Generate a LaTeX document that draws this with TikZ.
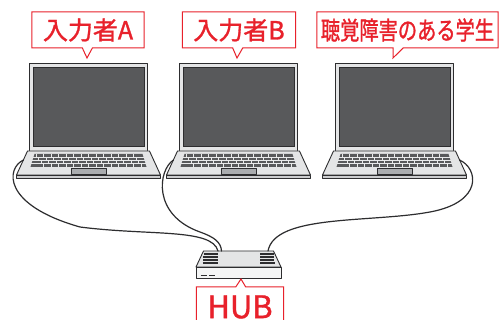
\documentclass[tikz,border=0pt]{standalone}
\usepackage{fontspec}
\newfontfamily\jpfont[FakeBold=1.2]{Noto Sans CJK JP}
\newfontfamily\jpnarrow[FakeStretch=0.77, FakeBold=1.2]{Noto Sans CJK JP}
\usetikzlibrary{shapes.callouts}

\definecolor{tagred}{RGB}{232,33,43}
\definecolor{casegray}{RGB}{228,229,230}
\definecolor{screengray}{RGB}{88,89,91}
\definecolor{edgegray}{RGB}{45,45,47}
\definecolor{padgray}{RGB}{170,172,175}

\tikzset{
    casing/.style={draw=edgegray, fill=casegray, line width=0.9pt, line join=round},
    screenarea/.style={draw=edgegray, fill=screengray, line width=0.8pt},
    keygap/.style={draw=casegray!80, line width=0.6pt},
    vent/.style={draw=edgegray, line width=1.1pt},
    cable/.style={draw=edgegray, line width=1.2pt, line cap=round},
    % notebook, origin at the hinge centre
    laptop/.pic={
        % lid
        \draw[casing] (-59,-88) rectangle (59,0);
        \draw[screenarea] (-55.5,-84) rectangle (56,-5);
        % base
        \draw[casing] (-61,0) -- (61,0) -- (72,24) -- (-72,24) -- cycle;
        \draw[casing, fill=padgray!60] (-72,24) rectangle (72,27);
        % keyboard
        \fill[screengray] (-54,3) -- (54,3) -- (58,16) -- (-58,16) -- cycle;
        \foreach \r in {1,2,3}
            \draw[keygap] ({-54-\r*1.3},{3+\r*3.25}) -- ({54+\r*1.3},{3+\r*3.25});
        \foreach \r in {0,...,3}
            \foreach \k in {-7,...,6}
                \draw[keygap] ({\k*7.5+\r*2.5},{3+\r*3.25}) -- ++(0,3.25);
        % trackpad
        \draw[casing, fill=padgray] (-17,17.5) rectangle (18,23.5);
        \coordinate (-tip) at (-1.5,-93);
        \coordinate (-lport) at (-65,9);
        \coordinate (-rport) at (65,9);
    },
    % switching hub, origin at the middle of the back edge
    hub/.pic={
        \draw[casing] (-35,0) -- (35,0) -- (42.5,16) -- (-42.5,16) -- cycle;
        \draw[casing, fill=casegray!40] (-42.5,16) rectangle (42.5,27);
        \foreach \v in {3,6,9,12} {
            \draw[vent] ({-34.5-\v*0.1},\v) -- (-21,\v);
            \draw[vent] (21.5,\v) -- ({35+\v*0.1},\v);
        }
        \draw[vent] (-38,24.5) -- (-32,24.5);
        \draw[vent] (-29.5,24.5) -- (-23.5,24.5);
        \coordinate (-a) at (-20.5,0);
        \coordinate (-b) at (-17,0);
        \coordinate (-c) at (29.5,0);
        \coordinate (-tip) at (2.5,28);
    },
    tag/.style={
        rectangle callout, draw=tagred, fill=white, line width=1pt,
        text=tagred, inner xsep=11pt, inner ysep=0pt,
        minimum height=36pt, callout pointer width=10pt,
        font=\jpfont\fontsize{25}{25}\selectfont
    }
}

\begin{document}
\begin{tikzpicture}[x=1pt, y=-1pt]

    \fill[white] (0,0) rectangle (499,320);
    \useasboundingbox (0,0) rectangle (499,320);

    % the three notebooks
    \pic (pa) at (88.5,151) {laptop};
    \pic (pb) at (238.5,151) {laptop};
    \pic (pc) at (394.5,151) {laptop};

    % hub
    \pic (hub) at (238.5,251) {hub};

    % cables
    \draw[cable] (pa-lport) .. controls (6,168) and (2,205) .. (80,227)
        .. controls (150,236) and (212,228) .. (hub-a);
    \draw[cable] (pb-lport) .. controls (158,170) and (152,215) .. (200,232)
        .. controls (214,237) and (221,242) .. (hub-b);
    \draw[cable] (pc-rport) .. controls (478,168) and (484,202) .. (430,212)
        .. controls (370,223) and (275,214) .. (hub-c);

    % input A
    \node[tag, callout absolute pointer={(pa-tip)}] (ta) at (88,30)
        {入力者A};

    % input B
    \node[tag, callout absolute pointer={(pb-tip)}] (tb) at (239,30)
        {入力者B};

    % student
    \node[tag, inner xsep=4pt, font=\jpnarrow\fontsize{25}{25}\selectfont,
          callout absolute pointer={(pc-tip)}] (tc) at (407.5,30)
        {聴覚障害のある学生};

    % HUB
    \node[tag, minimum height=40pt, font=\jpfont\fontsize{31}{31}\selectfont,
          callout absolute pointer={(hub-tip)}] (th) at (240,307)
        {HUB};

\end{tikzpicture}
\end{document}
